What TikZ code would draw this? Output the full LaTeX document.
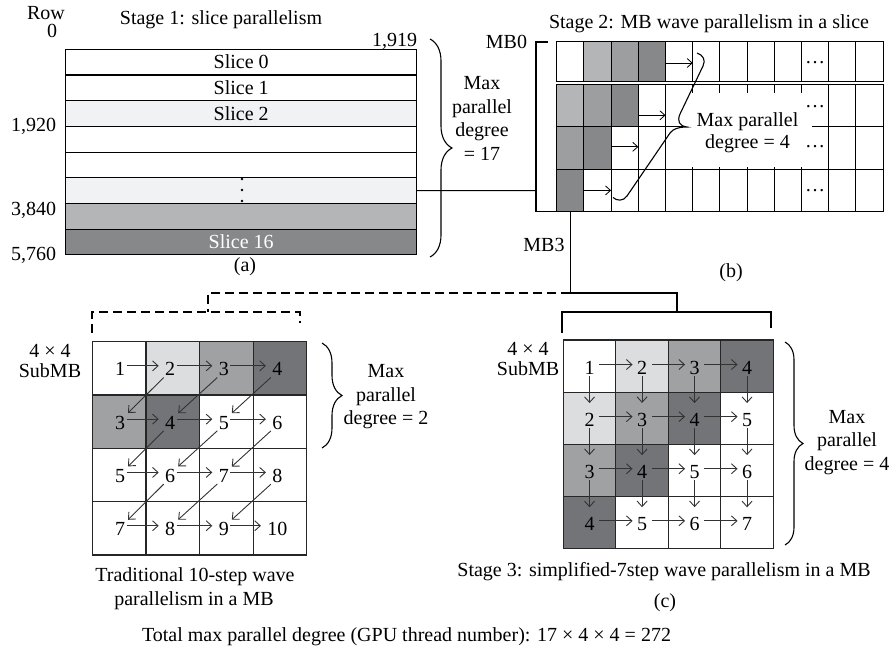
\documentclass[tikz,border=0pt]{standalone}
\usepackage{fontspec}
\setmainfont{Liberation Serif}
\usetikzlibrary{arrows.meta,decorations.pathreplacing,calc}

\definecolor{aLight}{HTML}{F1F2F4}
\definecolor{aMid}{HTML}{B4B5B7}
\definecolor{aDark}{HTML}{87888A}
\definecolor{bLight}{HTML}{B4B5B7}
\definecolor{bMid}{HTML}{9D9EA0}
\definecolor{bDark}{HTML}{87888A}
\definecolor{cLight}{HTML}{DCDDDF}
\definecolor{cMid}{HTML}{A0A1A3}
\definecolor{cDark}{HTML}{737477}
\definecolor{flowgrey}{HTML}{333333}

\begin{document}
\begin{tikzpicture}[x=1pt,y=-1pt,
  font=\fontsize{20}{23.3}\selectfont,
  lbl/.style={inner sep=0pt, outer sep=0pt},
  slicebox/.style={draw=black, line width=1.1pt, minimum width=351pt,
    minimum height=25.7pt, inner sep=0pt, outer sep=0pt},
  mbcell/.style={draw=black, line width=1.1pt, inner sep=0pt, outer sep=0pt,
    minimum width=27.2pt},
  subcell/.style={draw=black!85, line width=1.2pt, inner sep=0pt, outer sep=0pt},
  gridline/.style={draw=black, line width=1.1pt},
  num/.style={inner sep=1.5pt, outer sep=0pt},
  flow/.style={draw=flowgrey, line width=0.9pt,
    -{Straight Barb[length=5.5pt,width=10pt]}},
  mbflow/.style={draw=black, line width=0.8pt,
    -{Straight Barb[length=5pt,width=9pt]}},
  link/.style={draw=black, line width=1.1pt},
  dashlink/.style={draw=black, line width=1.1pt, dash pattern=on 9pt off 5pt},
  bigbrace/.style={draw=black, line width=1.1pt, decorate,
    decoration={brace, amplitude=#1}},
]
\useasboundingbox (0,0) rectangle (890,650);

% ---------------- (a) slice parallelism ----------------
\node[lbl, anchor=base] at (46,20) {Row};
\node[lbl, anchor=base] at (52,38) {0};
\node[lbl, anchor=base] at (221,25) {Stage 1: slice parallelism};
\node[lbl, anchor=base east] at (417,47) {1,919};

\foreach \i/\f/\t in {0/white/{Slice 0},1/white/{Slice 1},2/aLight/{Slice 2},
    3/white/{},4/white/{},5/aLight/{},6/aMid/{},7/aDark/{\color{white}Slice 16}}
  \node[slicebox, fill=\f] (s\i) at (241.2,{49.3+25.7*\i+12.85}) {\t};

\foreach \y in {179,190,201} \fill (242,\y) circle (1.3pt);

\node[lbl, anchor=base east] at (56,131.7) {1,920};
\node[lbl, anchor=base east] at (56,215) {3,840};
\node[lbl, anchor=base east] at (56,260) {5,760};
\node[lbl] at (245,267) {(a)};

\draw[bigbrace=22pt] (430,39) -- (430,257);
\node[lbl, anchor=base] at (482,90) {Max};
\node[lbl, anchor=base] at (482,113.3) {parallel};
\node[lbl, anchor=base] at (482,136.7) {degree};
\node[lbl, anchor=base] at (482,160) {= 17};

% ---------------- (b) MB wave parallelism ----------------
\node[lbl, anchor=base] at (709,29) {Stage 2: MB wave parallelism in a slice};
\node[lbl, anchor=base east] at (527,48.3) {MB0};

\foreach \r/\t/\h in {0/41.7/39.6,1/84.4/42.4,2/126.8/42.4,3/169.2/42.4}
  \foreach \c in {0,...,11}
    \node[mbcell, minimum height=\h pt] (b-\r-\c) at ({556.7+27.2*\c+13.6},{\t+\h/2}) {};

\foreach \r/\c/\f in {0/1/bLight,0/2/bMid,0/3/bDark,1/0/bLight,1/1/bMid,1/2/bDark,
    2/0/bMid,2/1/bDark,3/0/bDark}
  \draw[gridline, fill=\f] (b-\r-\c.north west) rectangle (b-\r-\c.south east);

\coordinate (mbbracket) at (536,190.6);
\draw[link] (548,42) -- (536,42) -- (536,211.6) -- (556.7,211.6);
\draw[link] (s5.east) -- (mbbracket);

\draw[mbflow] ([yshift=-1.5pt]b-0-4.west) -- ([yshift=-1.5pt]b-0-5.west);
\draw[mbflow] ([yshift=-9.7pt]b-1-3.west) -- ([yshift=-9.7pt]b-1-4.west);
\draw[mbflow] ([yshift=1.2pt]b-2-2.west) -- ([yshift=1.2pt]b-2-3.west);
\draw[mbflow] (b-3-1.west) -- (b-3-2.west);

\node[fill=white, inner sep=0pt, minimum width=126pt, minimum height=74pt] (degbox) at (749,130) {};
\node[lbl, anchor=base] at (747.5,126.7) {Max parallel};
\node[lbl, anchor=base] at (747.5,148.3) {degree = 4};

\foreach \y in {63,107,147,191} \node[lbl] at (815,\y) {\dots};

\draw[line width=1.1pt] (613,197.5) .. controls (617,201) and (623,201.5) .. (627,196)
  -- (670,133) .. controls (673,129) and (678,127) .. (687,127)
  .. controls (679,126) and (677,121) .. (680,114)
  -- (703,66) .. controls (706,60) and (703,55) .. (697,53);

\node[lbl, anchor=base] at (544,251.7) {MB3};
\node[lbl] at (731,273) {(b)};

% ---------------- connectors to the 4x4 sub-blocks ----------------
\coordinate (j1) at (570.3,293);
\coordinate (jR) at (677,293);
\coordinate (jRtop) at (677,312);
\coordinate (jL) at (208,293);
\coordinate (jLtop) at (208,312);
\draw[link] (b-3-0.south) -- (j1) -- (jR) -- (jRtop);
\draw[link] (562,333) -- (562,312) -- (771,312) -- (771,328);
\draw[dashlink] (j1) -- (jL) -- (jLtop);
\draw[dashlink] (92,333) -- (92,312) -- (300,312) -- (300,323);

% ---------------- traditional 10-step wave (left) ----------------
\node[lbl, anchor=base] at (50,357) {4 × 4};
\node[lbl, anchor=base] at (50,377.3) {SubMB};

\foreach \r in {0,...,3}
  \foreach \c in {0,...,3}
    \node[subcell, minimum width=53.6pt, minimum height=53.3pt] (l-\r-\c)
      at ({92.3+53.6*\c+26.8},{341.7+53.3*\r+26.65}) {};
\foreach \r/\c/\f in {0/1/cLight,0/2/cMid,0/3/cDark,1/0/cMid,1/1/cDark}
  \draw[subcell, fill=\f] (l-\r-\c.north west) rectangle (l-\r-\c.south east);

\foreach \r in {0,...,3}
  \foreach \c in {0,...,3}{
    \pgfmathtruncatemacro\v{2*\r+\c+1}
    \node[num] (ln-\r-\c) at ({92.3+53.6*\c+26.8-2.5+3.5*(\c==0)},{341.7+53.3*\r+27.65}) {\v};
  }
\foreach \r in {0,...,3}
  \foreach \c in {0,1,2}{
    \pgfmathtruncatemacro\nc{\c+1}
    \draw[flow, shorten >=5pt] ([yshift=3.5pt]ln-\r-\c.east) -- ([yshift=3.5pt]ln-\r-\nc.west);
  }
\foreach \r in {0,1,2}
  \foreach \c in {1,2,3}{
    \pgfmathtruncatemacro\nr{\r+1}
    \pgfmathtruncatemacro\pc{\c-1}
    \draw[flow, shorten >=2pt] (ln-\r-\c.south west) -- (ln-\nr-\pc.north east);
  }

\draw[bigbrace=20pt] (322,343) -- (322,448);
\node[lbl, anchor=base] at (386,377.7) {Max};
\node[lbl, anchor=base] at (386,401) {parallel};
\node[lbl, anchor=base] at (386,424) {degree = 2};

\node[lbl, anchor=base] at (195,581.7) {Traditional 10-step wave};
\node[lbl, anchor=base] at (194,605) {parallelism in a MB};

% ---------------- simplified 7-step wave (right) ----------------
\node[lbl, anchor=base] at (528,355) {4 × 4};
\node[lbl, anchor=base] at (528,375) {SubMB};

\foreach \r in {0,...,3}
  \foreach \c in {0,...,3}
    \node[subcell, minimum width=52.5pt, minimum height=52.1pt] (r-\r-\c)
      at ({563.3+52.5*\c+26.25},{340+52.1*\r+26.05}) {};
\foreach \r/\c/\f in {0/1/cLight,0/2/cMid,0/3/cDark,1/0/cLight,1/1/cMid,1/2/cDark,
    2/0/cMid,2/1/cDark,3/0/cDark}
  \draw[subcell, fill=\f] (r-\r-\c.north west) rectangle (r-\r-\c.south east);

\foreach \r in {0,...,3}
  \foreach \c in {0,...,3}{
    \pgfmathtruncatemacro\v{\r+\c+1}
    \node[num] (rn-\r-\c) at ({563.3+52.5*\c+26.25},{340+52.1*\r+28.05}) {\v};
  }
\foreach \r in {0,...,3}
  \foreach \c in {0,1,2}{
    \pgfmathtruncatemacro\nc{\c+1}
    \draw[flow, shorten <=3pt, shorten >=3pt] ([yshift=3.5pt]rn-\r-\c.east) -- ([yshift=3.5pt]rn-\r-\nc.west);
  }
\foreach \r in {0,1,2}
  \foreach \c in {0,...,3}{
    \pgfmathtruncatemacro\nr{\r+1}
    \draw[flow, shorten >=9pt] (rn-\r-\c.south) -- (rn-\nr-\c.north);
  }

\draw[bigbrace=18pt] (785,342) -- (785,545);
\node[lbl, anchor=base] at (847,423.3) {Max};
\node[lbl, anchor=base] at (847,446.7) {parallel};
\node[lbl, anchor=base] at (847,470) {degree = 4};

\node[lbl, anchor=base] at (664,576.7) {Stage 3: simplified-7step wave parallelism in a MB};
\node[lbl] at (665,603) {(c)};

\node[lbl, anchor=base west] at (142,641.7) {Total max parallel degree (GPU thread number): 17 × 4 × 4 = 272};
\end{tikzpicture}
\end{document}
